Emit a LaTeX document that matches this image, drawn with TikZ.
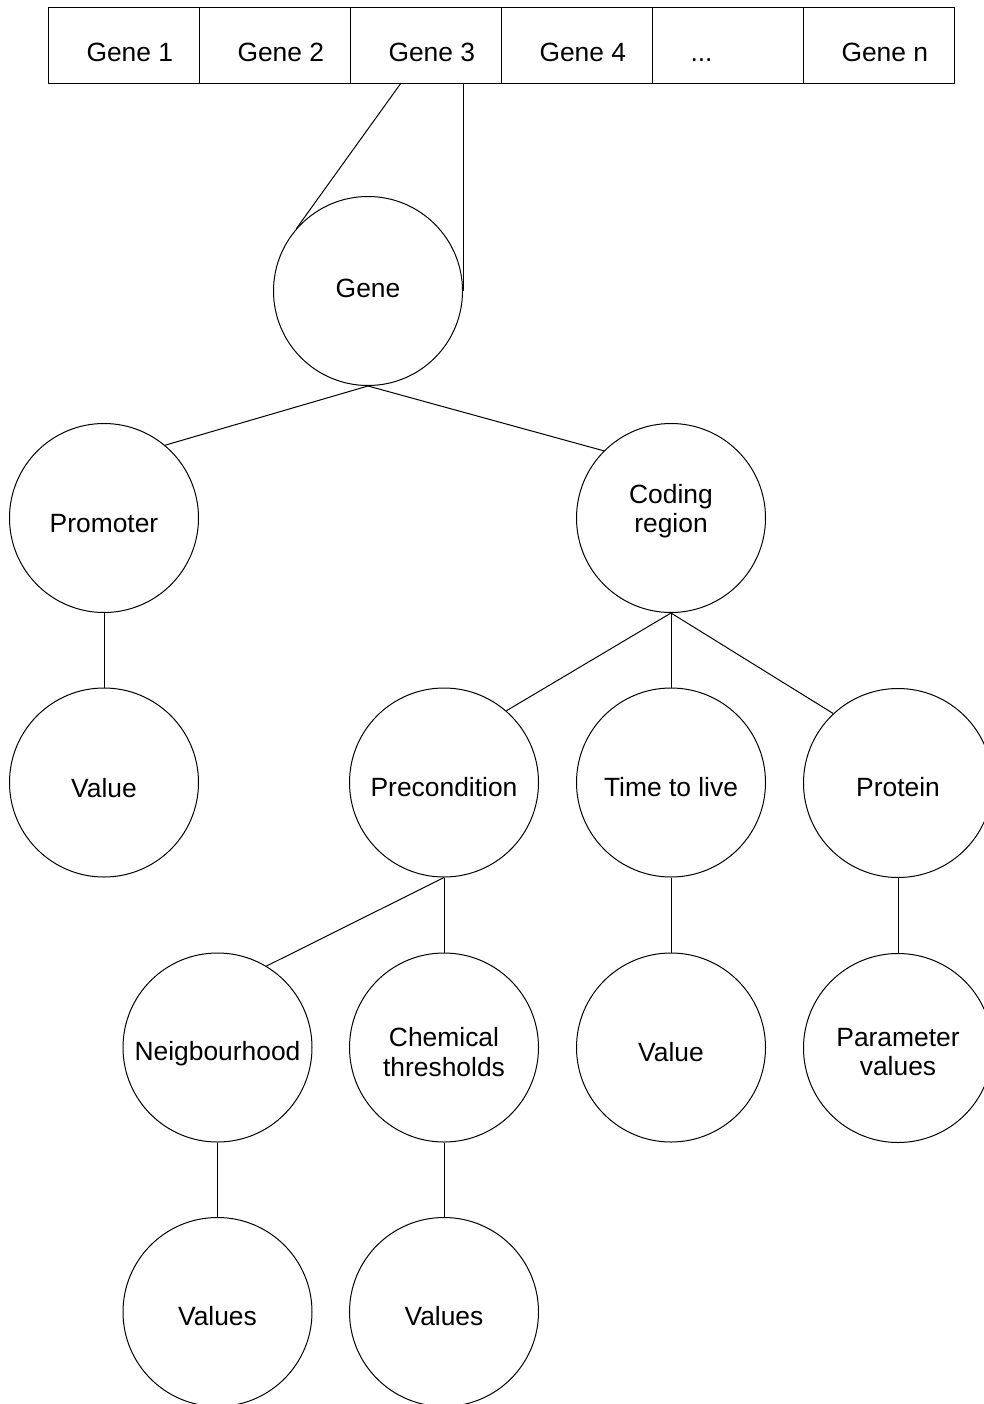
\documentclass[tikz,border=0pt]{standalone}
\usepackage{fontspec}
\setmainfont{Liberation Sans}
\newcommand\ctext[2]{\makebox[0pt]{\raisebox{#1}[0pt][0pt]{#2}}}
\newcommand\ltext[1]{\makebox[0pt][l]{\kern-37pt\raisebox{-16.3pt}[0pt][0pt]{#1}}}
\begin{document}
\begin{tikzpicture}[x=1pt,y=-1pt,
  every node/.style={font=\fontsize{26.4}{30}\selectfont},
  circ/.style={circle,draw,line width=1pt,minimum size=189pt,inner sep=0pt},
  cell/.style={rectangle,draw,line width=1pt,minimum width=151pt,minimum height=75.5pt,inner sep=0pt},
  conn/.style={line width=1pt}]
\clip (0,0) rectangle (984,1404);
\fill[white] (0,0) rectangle (984,1404);
% gene bar
\node[cell] (g1) at (123.5,45.5) {\ltext{Gene 1}};
\node[cell] (g2) at (274.5,45.5) {\ltext{Gene 2}};
\node[cell] (g3) at (425.5,45.5) {\ltext{Gene 3}};
\node[cell] (g4) at (576.5,45.5) {\ltext{Gene 4}};
\node[cell] (gdots) at (727.5,45.5) {\ltext{...}};
\node[cell] (gn) at (878.5,45.5) {\ltext{Gene n}};
% tree
\node[circ] (gene) at (368,291) {\ctext{-6pt}{Gene}};
\node[circ] (prom) at (104,518) {\ctext{-14pt}{Promoter}};
\node[circ] (code) at (671,518) {\ctext{15pt}{Coding}\ctext{-14pt}{region}};
\node[circ] (pval) at (104,782.5) {\ctext{-14.5pt}{Value}};
\node[circ] (pre) at (444,782.5) {\ctext{-14pt}{Precondition}};
\node[circ] (ttl) at (671,782.5) {\ctext{-14pt}{Time to live}};
\node[circ] (prot) at (898,783) {\ctext{-13.5pt}{Protein}};
\node[circ] (neigh) at (217.5,1047.5) {\ctext{-12.5pt}{Neigbourhood}};
\node[circ] (chem) at (444,1047.5) {\ctext{1.5pt}{Chemical}\ctext{-28.5pt}{thresholds}};
\node[circ] (tval) at (671,1047.5) {\ctext{-13.5pt}{Value}};
\node[circ] (param) at (898,1048) {\ctext{2pt}{Parameter}\ctext{-27pt}{values}};
\node[circ] (vals1) at (217.5,1312) {\ctext{-13pt}{Values}};
\node[circ] (vals2) at (444,1312) {\ctext{-13pt}{Values}};
% connectors
\draw[conn] ([xshift=-25pt]g3.south) -- (gene.139);
\draw[conn] ([xshift=37.5pt]g3.south) -- (gene.east);
\draw[conn] (gene.south) -- (prom.50);
\draw[conn] (gene.south) -- (code.135);
\draw[conn] (prom.south) -- (pval.north);
\draw[conn] (code.south) -- (pre.49);
\draw[conn] (code.south) -- (ttl.north);
\draw[conn] (code.south) -- (prot.133);
\draw[conn] (pre.south) -- (neigh.59);
\draw[conn] (pre.south) -- (chem.north);
\draw[conn] (ttl.south) -- (tval.north);
\draw[conn] (prot.south) -- (param.north);
\draw[conn] (neigh.south) -- (vals1.north);
\draw[conn] (chem.south) -- (vals2.north);
\end{tikzpicture}
\end{document}
